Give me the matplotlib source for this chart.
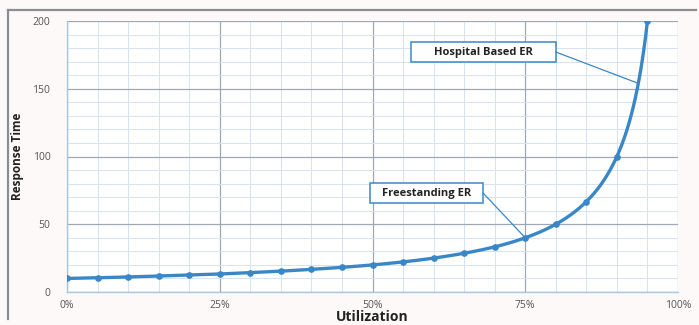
import numpy as np
import matplotlib
matplotlib.use("Agg")
import matplotlib.pyplot as plt
from matplotlib.ticker import MultipleLocator, PercentFormatter
from matplotlib.lines import Line2D
from matplotlib.patches import Rectangle

# Utilization levels (fraction) and the response time observed at each
utilization = [0.00, 0.05, 0.10, 0.15, 0.20, 0.25, 0.30, 0.35, 0.40, 0.45,
               0.50, 0.55, 0.60, 0.65, 0.70, 0.75, 0.80, 0.85, 0.90, 0.95]
response_time = [10.0, 10.5, 11.1, 11.8, 12.5, 13.3, 14.3, 15.4, 16.7, 18.2,
                 20.0, 22.2, 25.0, 28.6, 33.3, 40.0, 50.0, 66.7, 100.0, 200.0]

# Callouts: label, point on the curve, box extent (x0, x1, y0, y1)
callout_labels = ["Freestanding ER", "Hospital Based ER"]
callout_points = [(0.75, 40.0), (0.935, 154.0)]
callout_boxes = [(0.496, 0.681, 65.7, 80.4), (0.563, 0.800, 169.7, 184.5)]

line_color = "#3a87c8"
font = ["Open Sans", "DejaVu Sans"]


def smooth_curve(xs, ys, steps=30):
    """Smooth line through every point: Catmull-Rom Bezier segments run on
    the reciprocal of y (nearly straight for this kind of queueing curve),
    then mapped back."""
    xs = np.asarray(xs, float)
    r = 1.0 / np.asarray(ys, float)
    p = np.column_stack([xs, r])
    ext = np.vstack([2 * p[0] - p[1], p, 2 * p[-1] - p[-2]])
    out = []
    t = np.linspace(0, 1, steps, endpoint=False)[:, None]
    for i in range(len(p) - 1):
        p0, p1, p2, p3 = ext[i], ext[i + 1], ext[i + 2], ext[i + 3]
        c1 = p1 + (p2 - p0) / 6.0
        c2 = p2 - (p3 - p1) / 6.0
        seg = ((1 - t) ** 3 * p1 + 3 * (1 - t) ** 2 * t * c1
               + 3 * (1 - t) * t ** 2 * c2 + t ** 3 * p2)
        out.append(seg)
    out.append(p[-1:])
    out = np.vstack(out)
    return out[:, 0], 1.0 / out[:, 1]


fig = plt.figure(figsize=(6.99, 3.25), dpi=100)
fig.patch.set_facecolor("#fdf9f8")

# thin frame around the chart
fig.add_artist(Line2D([8 / 699, 8 / 699], [0.02, 1 - 10 / 325],
                      color="#8a8f95", lw=1.6, transform=fig.transFigure))
fig.add_artist(Line2D([8 / 699, 0.995], [1 - 10 / 325, 1 - 10 / 325],
                      color="#8a8f95", lw=1.6, transform=fig.transFigure))

ax = fig.add_axes([67 / 699, 1 - 292 / 325, 611 / 699, 271 / 325])
ax.set_facecolor("white")
ax.set_xlim(0, 1.0)
ax.set_ylim(0, 200)

ax.xaxis.set_major_locator(MultipleLocator(0.25))
ax.xaxis.set_minor_locator(MultipleLocator(0.05))
ax.yaxis.set_major_locator(MultipleLocator(50))
ax.yaxis.set_minor_locator(MultipleLocator(10))
ax.xaxis.set_major_formatter(PercentFormatter(1.0, decimals=0))

ax.grid(which="major", color="#9fa8b2", lw=0.9)
ax.grid(which="minor", color="#d4e4f0", lw=0.7)
ax.set_axisbelow(True)

for side in ("top", "right"):
    ax.spines[side].set_visible(False)
for side in ("left", "bottom"):
    ax.spines[side].set_color("#a9c8e0")
    ax.spines[side].set_linewidth(1.0)

ax.tick_params(which="both", length=0, labelsize=7.5, labelcolor="#555555")
ax.tick_params(axis="x", pad=6)
ax.tick_params(axis="y", pad=12)
for lab in ax.get_xticklabels() + ax.get_yticklabels():
    lab.set_family(font)

sx, sy = smooth_curve(utilization, response_time)
ax.plot(sx, sy, color=line_color, lw=2.4, zorder=3, solid_capstyle="round")
ax.plot(utilization, response_time, ls="none", marker="o", ms=3.8,
        mfc=line_color, mec=line_color, zorder=4)

ax.set_xlabel("Utilization", fontsize=10, fontweight="bold", family=font,
              labelpad=-1, color="#222222")
ax.set_ylabel("Response Time", fontsize=8.5, fontweight="bold", family=font,
              labelpad=6, color="#222222")

for label, pt, box in zip(callout_labels, callout_points, callout_boxes):
    x0, x1, y0, y1 = box
    ax.add_patch(Rectangle((x0, y0), x1 - x0, y1 - y0, fc="white",
                           ec=line_color, lw=1.1, zorder=5))
    ax.text((x0 + x1) / 2, (y0 + y1) / 2, label, fontsize=8,
            fontweight="bold", family=font, color="#222222",
            ha="center", va="center", zorder=6)
    ax.plot([x1, pt[0]], [(y0 + y1) / 2, pt[1]], color=line_color,
            lw=0.9, zorder=5)

fig.savefig("out.png", dpi=100, facecolor=fig.get_facecolor())
